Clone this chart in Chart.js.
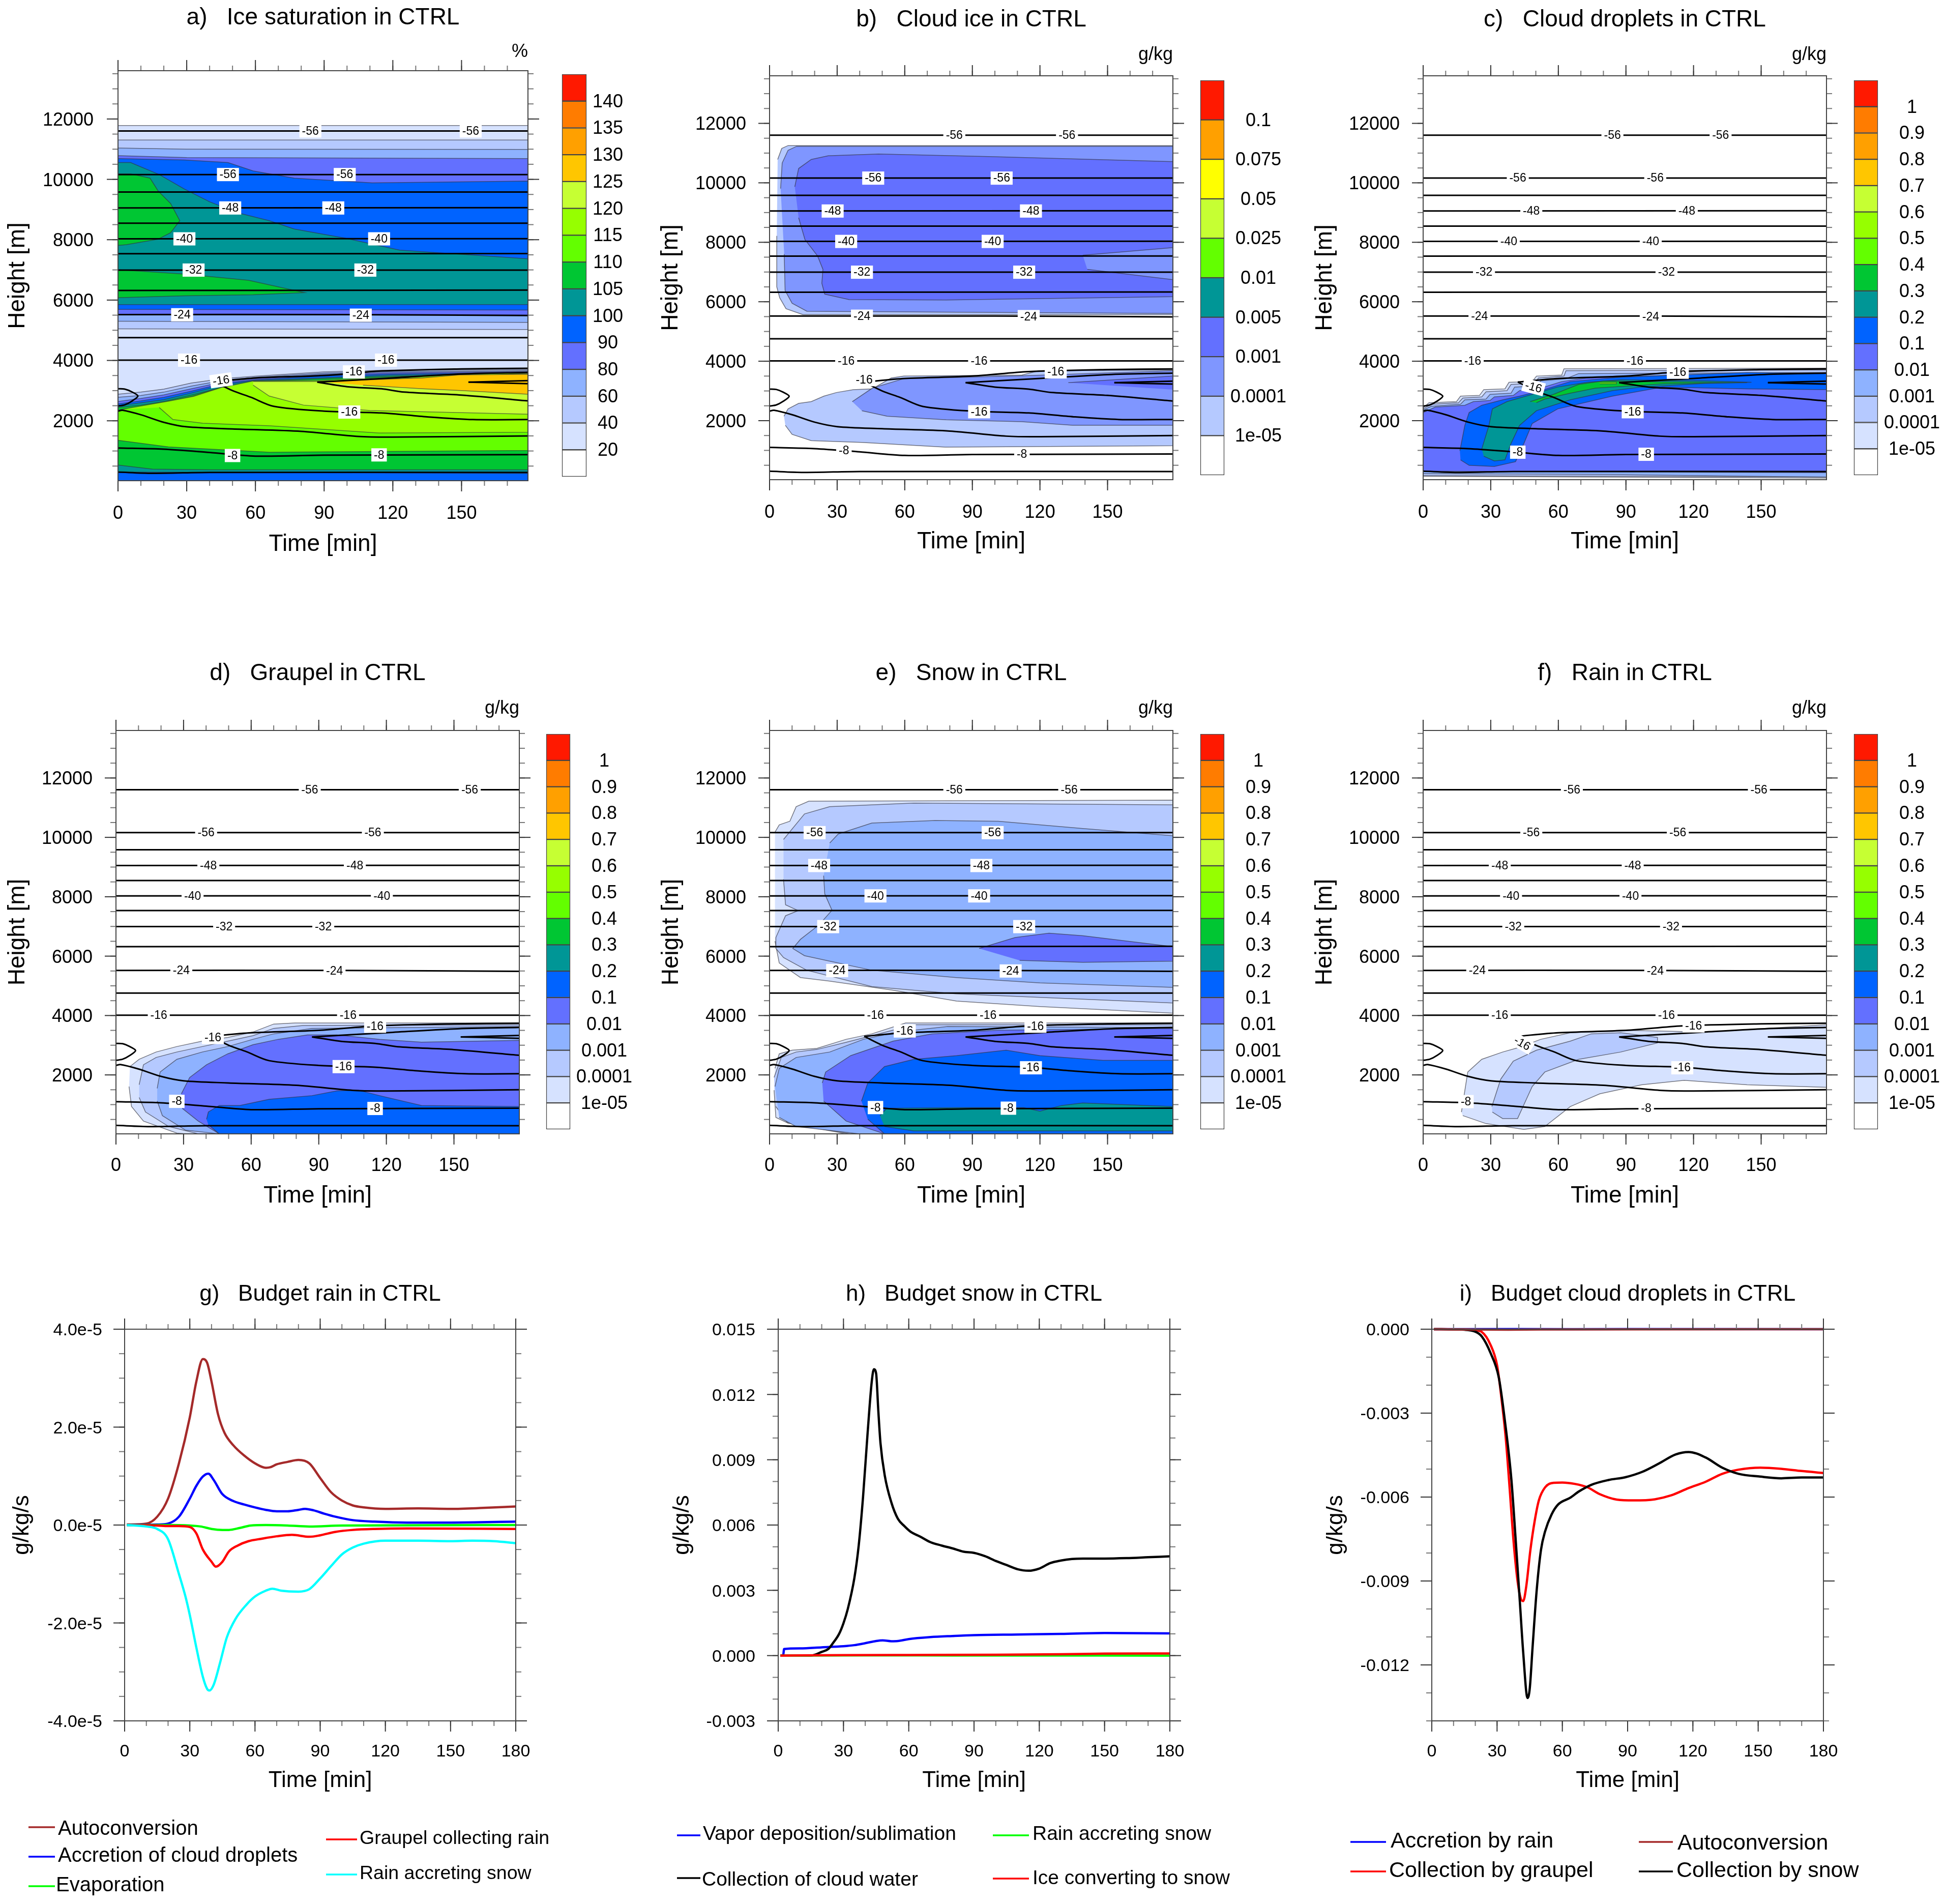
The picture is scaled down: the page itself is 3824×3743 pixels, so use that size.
<!DOCTYPE html>
<html>
<head>
<meta charset="utf-8">
<title>CTRL microphysics</title>
<script src="https://cdn.jsdelivr.net/npm/chart.js@4"></script>
<style>
body { margin: 0; background: #fff; width: 3824px; height: 3743px; overflow: hidden; position: relative; }
canvas { position: absolute; }
</style>
</head>
<body>
<script>
// ---------- axes ----------
const timeTicks = [0, 30, 60, 90, 120, 150];
const budgetTimeTicks = [0, 30, 60, 90, 120, 150, 180];
const heightTicks = [2000, 4000, 6000, 8000, 10000, 12000];
const rainTicks = [-4, -2, 0, 2, 4];
const rainTickLabels = ['-4.0e-5', '-2.0e-5', '0.0e-5', '2.0e-5', '4.0e-5'];
const snowTicks = [-3, 0, 3, 6, 9, 12, 15];
const snowTickLabels = ['-0.003', '0.000', '0.003', '0.006', '0.009', '0.012', '0.015'];
const dropTicks = [-12, -9, -6, -3, 0];
const dropTickLabels = ['-0.012', '-0.009', '-0.006', '-0.003', '0.000'];

// ---------- colour levels ----------
const cWhite = '#ffffff', c1 = '#d6e2ff', c2 = '#b5c9ff', c3 = '#8eb2ff', c3b = '#7f96ff', c4 = '#6370ff', c5 = '#0063ff',
  c6 = '#009696', c7 = '#00c633', c8 = '#63ff00', c9 = '#96ff00', c10 = '#c6ff33', c11 = '#ffc600', c12 = '#ffa000',
  c13 = '#ff7c00', c14 = '#ff1900', cYellow = '#ffff00';
const barColors = [cWhite, c1, c2, c3, c4, c5, c6, c7, c8, c9, c10, c11, c12, c13, c14];
const iceBarColors = [cWhite, c2, c3b, c4, c6, c8, c10, cYellow, c12, c14];
const satLabels = ['20', '40', '60', '80', '90', '100', '105', '110', '115', '120', '125', '130', '135', '140'];
const iceLabels = ['1e-05', '0.0001', '0.001', '0.005', '0.01', '0.025', '0.05', '0.075', '0.1'];
const mixLabels = ['1e-05', '0.0001', '0.001', '0.01', '0.1', '0.2', '0.3', '0.4', '0.5', '0.6', '0.7', '0.8', '0.9', '1'];

// ---------- temperature contours, the same in panels a-f ----------
const iso56a = [[0, 11603], [179, 11603]];
const iso56b = [[0, 10159], [179, 10159]];
const iso52 = [[0, 9581], [179, 9581]];
const iso48 = [[0, 9052], [179, 9060]];
const iso44 = [[0, 8546], [179, 8546]];
const iso40 = [[0, 8029], [179, 8035]];
const iso36 = [[0, 7535], [179, 7540]];
const iso32 = [[0, 6994], [179, 6994]];
const iso28 = [[0, 6320], [179, 6330]];
const iso24 = [[0, 5520], [100, 5520], [179, 5490]];
const iso20 = [[0, 4756], [179, 4756]];
const iso16 = [[0, 4010], [179, 4010]];
const isoV1up = [[179, 3740], [150, 3720], [115, 3650], [90, 3500], [60, 3420], [42, 3300]];
const isoV1low = [[42, 3300], [50, 3000], [58, 2780], [68, 2480], [90, 2320], [115, 2260], [135, 2130], [155, 2040], [179, 2040]];
const isoV2up = [[179, 3600], [150, 3550], [120, 3420], [87, 3280]];
const isoV2low = [[87, 3280], [100, 3130], [115, 3060], [125, 2950], [150, 2850], [179, 2660]];
const isoV3up = [[179, 3330], [153, 3280]];
const isoV3low = [[153, 3280], [179, 3230]];
const iso12 = [[0, 2320], [2, 2350], [10, 2200], [20, 1950], [30, 1800], [50, 1730], [80, 1650], [105, 1480], [120, 1460], [179, 1500]];
const iso8 = [[0, 1100], [20, 1060], [40, 950], [60, 830], [90, 860], [179, 880]];
const iso4 = [[0, 300], [15, 260], [40, 290], [179, 290]];
const isoBubble = [[0, 3062], [3, 3050], [6, 2960], [8.7, 2821], [6, 2650], [3, 2530], [0, 2490]];
const isotherms = [iso56a, iso56b, iso52, iso48, iso44, iso40, iso36, iso32, iso28, iso24, iso20, iso16, isoV1up, isoV1low, isoV2up, isoV2low, isoV3up, isoV3low, iso12, iso8, iso4, isoBubble];

// ---------- a) ice saturation ----------
const aGe20 = [[0, 11783], [179, 11783], [179, 15], [0, 15]];
const aGe40 = [[0, 11302], [179, 11302], [179, 5023], [0, 5045]];
const aGe60 = [[0, 11037], [30, 11000], [179, 10990], [179, 5263], [0, 5300]];
const aGe80 = [[0, 10785], [30, 10720], [179, 10688], [179, 5500], [0, 5510]];
const aGe90 = [[0, 10688], [29, 10640], [48, 10556], [59, 10279], [77, 10039], [111, 9882], [179, 9942], [179, 5670], [0, 5690]];
const aGe100 = [[0, 10556], [5.5, 10556], [18, 10159], [29, 9678], [40, 9257], [52, 8896], [66, 8631], [77, 8354], [99, 8053], [123, 7656], [151, 7512], [179, 7368], [179, 5851], [0, 5851]];
const aGe105top = [[0, 10183], [5.5, 10183], [14, 10039], [17.5, 9618], [23, 9197], [27, 8631], [23, 8234], [17.5, 8017], [3.7, 7837], [0, 7812]];
const aGe105mid = [[0, 7006], [29, 6862], [57, 6657], [81.5, 6248], [59, 6176], [29, 6140], [0, 6080]];
const aLow40 = [[0, 2880], [10, 2950], [20, 3050], [32, 3250], [46, 3400], [60, 3480], [90, 3620], [120, 3680], [179, 3700], [179, 15], [0, 15]];
const aLow60 = [[0, 2780], [10, 2840], [20, 2950], [32, 3150], [46, 3340], [60, 3440], [90, 3580], [120, 3640], [179, 3660], [179, 15], [0, 15]];
const aLow80 = [[0, 2640], [10, 2740], [20, 2860], [32, 3060], [46, 3290], [60, 3400], [90, 3540], [120, 3600], [179, 3630], [179, 15], [0, 15]];
const aLow90 = [[0, 2560], [10, 2660], [20, 2780], [32, 2980], [46, 3240], [60, 3360], [90, 3490], [120, 3560], [179, 3600], [179, 15], [0, 15]];
const aLow100 = [[0, 2500], [10, 2600], [20, 2700], [32, 2920], [46, 3190], [60, 3340], [90, 3430], [120, 3520], [179, 3570], [179, 260], [0, 300]];
const aLow105 = [[0, 2440], [10, 2520], [20, 2640], [32, 2850], [46, 3120], [60, 3310], [90, 3400], [120, 3480], [179, 3550], [179, 379], [40, 379], [15, 400], [0, 535]];
const aLow110 = [[0, 2350], [6, 2420], [15, 2490], [22, 2640], [32, 2800], [44, 3080], [58, 3280], [90, 3300], [120, 3400], [179, 3540], [179, 1017], [66, 957], [22, 1137], [0, 1353]];
const aLow115 = [[1, 2370], [22, 2650], [33, 2810], [45, 3100], [59, 3320], [88, 3340], [133, 3490], [179, 3610], [179, 1620], [114, 1595], [66, 1835], [37, 1920], [24, 2040], [18, 2440]];
const aLow120 = [[59, 3300], [88, 3300], [133, 3420], [179, 3570], [179, 2220], [110, 2340], [81, 2520], [66, 2820], [59, 3180]];
const aLow125 = [[87, 3300], [133, 3420], [149, 3520], [179, 3540], [179, 2880], [151, 3000], [133, 3060], [107, 3180]];
const aFills = [[aGe20, c1], [aGe40, c2], [aGe60, c3], [aGe80, c4], [aGe90, c5], [aGe100, c6], [aGe105top, c7], [aGe105mid, c7],
  [aLow40, c2], [aLow60, c3], [aLow80, c4], [aLow90, c5], [aLow100, c6], [aLow105, c7], [aLow110, c8], [aLow115, c9], [aLow120, c10], [aLow125, c11]];
const aLabels = [[84, 11603, '-56'], [154, 11603, '-56'], [48, 10159, '-56'], [99, 10159, '-56'], [49, 9052, '-48'], [94, 9052, '-48'],
  [29, 8029, '-40'], [114, 8029, '-40'], [33, 6994, '-32'], [108, 6994, '-32'], [28, 5514, '-24'], [106, 5500, '-24'], [31, 4010, '-16'], [117, 4010, '-16'],
  [103, 3620, '-16'], [45, 3340, '-16', -8], [101, 2290, '-16'], [50, 850, '-8'], [114, 870, '-8']];

// ---------- b) cloud ice ----------
const bUp1 = [[3.6, 10787], [5.4, 11155], [8.2, 11253], [179, 11253], [179, 5569], [14.8, 5569], [7.3, 5765], [4.5, 6132], [3.2, 6500], [3.2, 8215]];
const bUp2 = [[4.9, 9807], [5.6, 10665], [8.2, 11094], [12, 11228], [179, 11228], [179, 5605], [16.6, 5679], [10, 5948], [6.9, 6377], [6.5, 7602]];
const bUp3 = [[11.2, 9868], [12.9, 10481], [18.5, 10787], [26, 10910], [48.4, 10971], [97, 10885], [179, 10714], [179, 6169], [78.4, 6059], [35.3, 6071], [24.5, 6255], [23.2, 6622], [23.7, 7088], [21.3, 7541], [15.7, 8092], [12.9, 8827]];
const bHole = [[139, 7565], [179, 7823], [179, 6745], [141, 7088]];
const bLow1 = [[6.4, 2151], [8.2, 2396], [12.9, 2580], [18.5, 2641], [24.1, 2825], [29.7, 2947], [37.2, 3045], [45.6, 3070], [54, 3437], [59.6, 3499], [112, 3535], [119.5, 3682], [179, 3707], [179, 1159], [78, 1110], [41, 1269], [18.5, 1330], [10, 1539], [7, 1844]];
const bLow2 = [[36.7, 2641], [45.6, 3094], [59.6, 3413], [112, 3511], [179, 3682], [179, 1844], [134.5, 1844], [112, 1967], [78.4, 2028], [52.2, 2151], [41, 2335]];
const bLow3 = [[132.6, 3278], [179, 3499], [179, 3045]];
const bFills = [[bUp1, c2], [bUp2, c3b], [bUp3, c4], [bHole, c3b], [bLow1, c2], [bLow2, c3b], [bLow3, c4]];
const bLabels = [[82, 11603, '-56'], [132, 11603, '-56'], [46, 10159, '-56'], [103, 10159, '-56'], [28, 9052, '-48'], [116, 9052, '-48'],
  [34, 8029, '-40'], [99, 8029, '-40'], [41, 6994, '-32'], [113, 6994, '-32'], [41, 5514, '-24'], [115, 5500, '-24'], [34, 4010, '-16'], [93, 4010, '-16'],
  [127, 3640, '-16'], [42, 3380, '-16'], [93, 2300, '-16'], [33, 1000, '-8'], [112, 880, '-8']];

// ---------- c) cloud droplets ----------
const cGe1 = [[0, 2433], [2.6, 2604], [14.8, 2641], [16.6, 2825], [25, 2849], [26.9, 3045], [36.3, 3070], [38.1, 3290], [48.4, 3315], [50.3, 3499], [61.5, 3535], [62.5, 3744], [179, 3768], [179, 68], [0, 130]];
const cGe2 = [[0, 2396], [3.6, 2555], [15.7, 2604], [17.6, 2763], [26, 2800], [27.9, 2972], [37.2, 3009], [39, 3217], [49.4, 3254], [51.2, 3437], [62.5, 3499], [63.4, 3682], [179, 3707], [179, 105], [0, 154]];
const cGe3 = [[0, 2359], [3.6, 2482], [16.6, 2555], [18.5, 2702], [27.9, 2727], [29.7, 2886], [39, 2923], [40.6, 3131], [50.3, 3168], [52.2, 3339], [63.4, 3413], [69, 3584], [179, 3621], [179, 105], [143.8, 130], [80, 191], [0, 215]];
const cGe4 = [[0, 2273], [5.4, 2457], [18.5, 2518], [22.3, 2641], [29.7, 2678], [31.6, 2800], [40, 2849], [42.8, 3009], [52.2, 3094], [61.5, 3315], [72.7, 3437], [125, 3560], [179, 3560], [179, 252], [0, 301]];
const cGe5 = [[16.3, 987], [18.5, 1844], [20.4, 2273], [26, 2518], [35.3, 2702], [42.8, 2825], [52.2, 3009], [65.3, 3315], [87.7, 3462], [143.8, 3621], [179, 3597], [179, 3045], [143.8, 3070], [106.4, 3131], [84, 2825], [59.7, 2396], [48.4, 1906], [44.7, 1232], [41, 620], [31.6, 460], [20.4, 497], [16.6, 681]];
const cGe6 = [[26, 1048], [29.2, 1844], [30.7, 2396], [37.2, 2641], [48.4, 2886], [59.7, 3131], [72.7, 3290], [87.7, 3376], [125, 3339], [145.7, 3290], [125, 3254], [97, 3131], [84, 3009], [65.3, 2702], [50.3, 2335], [42.8, 1844], [39, 1232], [36.3, 681], [31.6, 644], [26.9, 804]];
const cGe7 = [[47.5, 2641], [57.8, 2886], [69, 3217], [80.2, 3339], [97, 3315], [125, 3290], [143.8, 3278], [106.4, 3241], [91.4, 3168], [76.5, 3094], [65.3, 2923], [54, 2727], [50.3, 2604]];
const cGe8 = [[78.4, 3290], [85.8, 3290], [85.8, 3241], [78.4, 3241]];
const cFills = [[cGe1, c1], [cGe2, c2], [cGe3, c3], [cGe4, c4], [cGe5, c5], [cGe6, c6], [cGe7, c7], [cGe8, c8]];
const cLabels = [[84, 11603, '-56'], [132, 11603, '-56'], [42, 10159, '-56'], [103, 10159, '-56'], [48, 9052, '-48'], [117, 9052, '-48'],
  [38, 8029, '-40'], [101, 8029, '-40'], [27, 6994, '-32'], [108, 6994, '-32'], [25, 5514, '-24'], [101, 5500, '-24'], [22, 4010, '-16'], [94, 4010, '-16'],
  [113, 3630, '-16'], [49, 3130, '-16', 15], [93, 2300, '-16'], [42, 940, '-8'], [99, 870, '-8']];

// ---------- d) graupel ----------
const dGe1 = [[6.2, 2281], [10.3, 2526], [17.8, 2771], [27, 2955], [38.3, 3138], [49.6, 3261], [60.8, 3444], [70, 3713], [79.5, 3750], [179, 3750], [179, 17], [30.9, 17], [27, 41], [12.2, 445], [6.9, 935], [5.8, 1608]];
const dGe2 = [[10.3, 1670], [12.2, 2342], [17.8, 2587], [27, 2771], [38.3, 2955], [49.6, 3138], [60.8, 3322], [70, 3567], [83, 3665], [179, 3689], [179, 17], [36.5, 17], [23.4, 262], [13.1, 751], [10.3, 1241]];
const dGe3 = [[18.3, 1547], [19.6, 2098], [27, 2526], [38.3, 2771], [49.6, 2955], [60.8, 3199], [70, 3383], [87, 3567], [179, 3628], [179, 17], [45.8, 17], [30.9, 139], [20.6, 629], [18.3, 1119]];
const dGe4 = [[29, 1363], [32.7, 1914], [40.2, 2342], [49.6, 2710], [60.8, 3016], [72, 3199], [85, 3346], [98, 3346], [117, 3199], [135.6, 3102], [179, 3163], [179, 17], [45.8, 17], [36.5, 445], [29.4, 874]];
const dGe5 = [[40.2, 507], [41, 752], [45.8, 972], [55, 972], [68, 1180], [87, 1302], [98, 1461], [107.5, 1486], [117, 1302], [135.6, 972], [179, 935], [179, 17], [45.8, 17], [41, 322]];
const dFills = [[dGe1, c1], [dGe2, c2], [dGe3, c3], [dGe4, c4], [dGe5, c5]];
const dLabels = [[86, 11603, '-56'], [157, 11603, '-56'], [40, 10159, '-56'], [114, 10159, '-56'], [41, 9052, '-48'], [106, 9052, '-48'],
  [34, 8029, '-40'], [118, 8029, '-40'], [48, 6994, '-32'], [92, 6994, '-32'], [29, 5514, '-24'], [97, 5500, '-24'], [19, 4010, '-16'], [103, 4010, '-16'],
  [115, 3640, '-16'], [43, 3260, '-16'], [101, 2280, '-16'], [27, 1110, '-8'], [115, 870, '-8']];

// ---------- e) snow ----------
const eUp1 = [[2.4, 10176], [4.3, 10421], [9, 10543], [11.8, 11033], [17.4, 11217], [179, 11253], [179, 4081], [120, 4301], [83, 4485], [55, 4852], [26.7, 5158], [13.7, 5280], [4.3, 5770], [2.4, 6504]];
const eUp2 = [[6.2, 9931], [15.5, 10788], [26.7, 11033], [64, 11155], [179, 11094], [179, 4424], [82.8, 4730], [45.4, 4974], [16.5, 5525], [6.2, 5953], [2.8, 6259], [2.8, 6627], [7.1, 7361], [12.7, 7533], [7.1, 7728], [6.2, 8585]];
const eUp3 = [[26.7, 9809], [30.5, 10115], [45.4, 10482], [73.5, 10568], [101.5, 10543], [139, 10299], [179, 10054], [179, 4950], [120, 5097], [82.8, 5280], [45.4, 5525], [26.7, 5831], [15.5, 6015], [10.3, 6259], [13.7, 6565], [22, 7055], [27.7, 7545], [24.5, 8096], [24, 8708]];
const eUp4 = [[93, 6259], [109, 6627], [124, 6773], [139, 6688], [179, 6320], [179, 5831], [139, 5794], [111, 5856]];
const eLow1 = [[2.4, 2220], [4.3, 2710], [10, 2832], [21, 2893], [34, 3199], [45.4, 3383], [60.4, 3750], [179, 3750], [179, 17], [34, 17], [8, 384], [2.8, 568], [2, 1486]];
const eLow2 = [[2, 1915], [5.2, 2587], [11.8, 2771], [21, 2857], [34, 3100], [45.4, 3322], [64, 3689], [179, 3689], [179, 17], [36, 17], [8, 384], [2.8, 935]];
const eLow3 = [[2.4, 1608], [4.3, 2220], [11.8, 2587], [26.7, 2771], [41.7, 3199], [56.7, 3444], [79, 3628], [179, 3591], [179, 17], [39.8, 17], [11.8, 262], [4.3, 568]];
const eLow4 = [[23.4, 1731], [24.9, 2098], [36, 2649], [54.8, 3138], [72, 3383], [101.5, 3506], [179, 3567], [179, 17], [51, 17], [34, 445], [24, 1119]];
const eLow5 = [[40.8, 1119], [43.6, 1731], [51, 2282], [64, 2526], [83, 2649], [105, 2832], [120, 2649], [148, 2489], [179, 2489], [179, 17], [51, 17], [43.6, 507]];
const eLow6 = [[49, 629], [52, 874], [83, 898], [112.8, 898], [120, 776], [129.6, 972], [139, 1057], [179, 935], [179, 115], [64, 115], [51, 262]];
const eFills = [[eUp1, c1], [eUp2, c2], [eUp3, c3], [eUp4, c4], [eLow1, c1], [eLow2, c2], [eLow3, c3], [eLow4, c4], [eLow5, c5], [eLow6, c6]];
const eLabels = [[82, 11603, '-56'], [133, 11603, '-56'], [20, 10159, '-56'], [99, 10159, '-56'], [22, 9052, '-48'], [94, 9052, '-48'],
  [47, 8029, '-40'], [93, 8029, '-40'], [26, 6994, '-32'], [113, 6994, '-32'], [30, 5514, '-24'], [107, 5500, '-24'], [47, 4010, '-16'], [97, 4010, '-16'],
  [118, 3640, '-16'], [60, 3480, '-16'], [116, 2240, '-16'], [47, 900, '-8'], [106, 880, '-8']];

// ---------- f) rain ----------
const fGe1 = [[17, 751], [19.8, 2098], [26, 2526], [35.3, 2771], [42.8, 2930], [52.2, 3199], [65.3, 3420], [87.7, 3506], [125, 3444], [166, 3628], [179, 3689], [179, 1584], [143.8, 1670], [115.8, 1816], [97, 1670], [78.4, 1363], [65.3, 935], [54, 262], [44.7, 164], [27.9, 360], [17.6, 629]];
const fGe2 = [[30.5, 935], [34.4, 1853], [40, 2465], [50.3, 2832], [65.3, 3138], [74.6, 3383], [87.7, 3420], [104, 3261], [104, 3077], [87.7, 2771], [69, 2526], [54, 2098], [48.4, 1608], [44.7, 996], [41.9, 531], [35.3, 531], [30.7, 751]];
const fFills = [[fGe1, c1], [fGe2, c2]];
const fLabels = [[66, 11603, '-56'], [149, 11603, '-56'], [48, 10159, '-56'], [113, 10159, '-56'], [34, 9052, '-48'], [93, 9052, '-48'],
  [39, 8029, '-40'], [92, 8029, '-40'], [40, 6994, '-32'], [110, 6994, '-32'], [24, 5514, '-24'], [103, 5500, '-24'], [34, 4010, '-16'], [108, 4010, '-16'],
  [120, 3650, '-16'], [44, 3060, '-16', 30], [115, 2240, '-16'], [19, 1100, '-8'], [99, 880, '-8']];

// ---------- g) rain budget, in 1e-5 g/kg/s ----------
const rainAuto = [[1, 0.01], [10, 0.03], [15, 0.17], [20, 0.54], [25, 1.26], [30, 2.2], [33, 2.93], [36, 3.39], [38, 3.31], [40, 2.93], [43, 2.26], [46, 1.88], [50, 1.63], [55, 1.42], [60, 1.26], [65, 1.17], [67, 1.18], [70, 1.24], [75, 1.29], [80, 1.33], [85, 1.26], [90, 0.96], [95, 0.67], [100, 0.5], [105, 0.4], [110, 0.36], [120, 0.33], [135, 0.34], [150, 0.33], [165, 0.35], [180, 0.38]];
const rainAccr = [[1, 0], [15, 0.01], [20, 0.03], [25, 0.17], [30, 0.54], [33, 0.8], [36, 0.99], [38.5, 1.05], [41, 0.92], [45, 0.63], [50, 0.49], [55, 0.42], [60, 0.36], [65, 0.31], [70, 0.28], [75, 0.28], [80, 0.31], [83, 0.33], [87, 0.3], [92, 0.23], [97, 0.17], [105, 0.1], [115, 0.07], [130, 0.05], [150, 0.05], [180, 0.07]];
const rainEvap = [[1, 0], [20, 0], [30, -0.01], [35, -0.03], [40, -0.08], [45, -0.1], [48, -0.1], [53, -0.06], [58, -0.01], [65, 0], [75, -0.01], [85, -0.03], [100, -0.01], [180, 0]];
const rainGraupel = [[1, 0], [15, -0.01], [20, -0.02], [25, -0.02], [30, -0.04], [33, -0.17], [36, -0.5], [40, -0.75], [42, -0.85], [45, -0.75], [48, -0.54], [52, -0.42], [57, -0.33], [63, -0.28], [70, -0.23], [77, -0.2], [85, -0.24], [90, -0.21], [97, -0.14], [105, -0.1], [115, -0.08], [130, -0.07], [180, -0.08]];
const rainSnow = [[1, 0], [10, -0.03], [15, -0.08], [20, -0.29], [25, -1], [28, -1.46], [30, -1.84], [33, -2.5], [36, -3.1], [38, -3.35], [39, -3.38], [41, -3.26], [44, -2.8], [47, -2.3], [51, -1.92], [56, -1.63], [60, -1.46], [65, -1.34], [68, -1.3], [72, -1.34], [80, -1.36], [85, -1.31], [90, -1.09], [95, -0.84], [100, -0.6], [105, -0.46], [110, -0.38], [120, -0.32], [135, -0.32], [150, -0.33], [160, -0.32], [170, -0.33], [180, -0.37]];

// ---------- h) snow budget, in 1e-3 g/kg/s ----------
const snowDep = [[1, 0], [2.3, 0.02], [2.7, 0.3], [10, 0.33], [20, 0.38], [30, 0.43], [35, 0.48], [40, 0.57], [45, 0.67], [48, 0.7], [52, 0.66], [55, 0.67], [60, 0.76], [70, 0.85], [80, 0.9], [90, 0.94], [110, 0.97], [130, 1], [150, 1.04], [180, 1.02]];
const snowColl = [[1, 0], [15, 0], [20, 0.17], [23, 0.3], [25, 0.55], [28, 1], [30, 1.49], [32, 2.15], [35, 3.56], [37, 5.06], [39, 7.3], [41, 10.1], [43, 12.6], [44, 13.16], [45, 12.97], [46, 11.27], [47, 9.77], [49, 8.26], [52, 7.04], [55, 6.29], [58, 5.95], [61, 5.68], [65, 5.48], [70, 5.21], [75, 5.06], [80, 4.93], [85, 4.78], [90, 4.72], [95, 4.57], [100, 4.35], [105, 4.16], [110, 3.97], [115, 3.9], [120, 4], [125, 4.25], [130, 4.37], [135, 4.44], [140, 4.46], [150, 4.46], [160, 4.48], [170, 4.52], [180, 4.56]];
const snowRain = [[1, 0], [40, 0.01], [80, 0.005], [180, 0]];
const snowIce = [[1, 0], [30, 0.02], [60, 0.03], [100, 0.04], [130, 0.06], [150, 0.09], [180, 0.1]];

// ---------- i) droplet budget, in 1e-3 g/kg/s ----------
const dropRain = [[1, 0], [40, 0.005], [90, 0.005], [180, 0]];
const dropAuto = [[1, 0], [35, -0.02], [50, -0.01], [180, 0]];
const dropGraupel = [[1, 0], [15, -0.01], [20, -0.04], [23, -0.1], [27, -0.56], [30, -1.29], [32, -2.46], [34, -3.9], [35.6, -5.5], [37.6, -7.6], [39.5, -9.05], [40.9, -9.63], [42, -9.72], [43.4, -9.2], [45.3, -7.9], [47.3, -6.85], [49.2, -6.12], [52.1, -5.65], [56, -5.49], [60, -5.48], [65.7, -5.53], [71.5, -5.65], [77.3, -5.9], [85, -6.09], [92.8, -6.12], [102.5, -6.08], [110, -5.94], [118, -5.68], [125.7, -5.46], [133.5, -5.17], [141, -5.02], [151, -4.95], [160.6, -4.99], [170, -5.07], [180, -5.14]];
const dropSnow = [[1, 0], [15, -0.02], [20, -0.09], [23, -0.26], [27, -0.85], [30.8, -1.73], [33.7, -3.34], [36.6, -5.39], [38.6, -7.58], [40.5, -9.78], [42, -11.54], [44, -13.18], [45, -12.86], [46.3, -11.39], [48.2, -9.34], [50.2, -7.88], [52.1, -7.22], [55, -6.63], [58, -6.27], [63.7, -6.02], [67.6, -5.8], [73.4, -5.56], [81.2, -5.39], [89, -5.29], [96.7, -5.1], [104.4, -4.8], [112, -4.48], [118, -4.39], [125.7, -4.58], [133.5, -4.95], [141, -5.17], [151, -5.27], [160.6, -5.33], [170, -5.3], [180, -5.3]];

const FONT = '"Liberation Sans"';
const AXIS_W = 240, RIGHT_W = 130;

function addCanvas(left, top, width, height) {
  const cv = document.createElement('canvas');
  cv.width = width;
  cv.height = height;
  cv.style.left = left + 'px';
  cv.style.top = top + 'px';
  document.body.appendChild(cv);
  return cv;
}

function toXY(pts) {
  return pts.map(p => ({ x: p[0], y: p[1] }));
}

function fillSet(pts, color) {
  return { data: toXY(pts), showLine: true, fill: 'shape', backgroundColor: color, borderColor: 'rgba(50,50,60,0.65)', borderWidth: 1.5, pointRadius: 0 };
}

function lineSet(pts, color, width) {
  return { data: toXY(pts), showLine: true, fill: false, borderColor: color, borderWidth: width, pointRadius: 0, tension: 0.3 };
}

function curveSet(pts, color, label) {
  return { label: label, data: toXY(pts), showLine: true, fill: false, borderColor: color, borderWidth: 4.5, pointRadius: 0, cubicInterpolationMode: 'monotone', clip: 6 };
}

// ticks on all four sides, contour labels, unit text and line keys
function framePlugin(p, left, top) {
  return {
    id: 'frame',
    afterDatasetsDraw(chart) {
      const ctx = chart.ctx, a = chart.chartArea, xs = chart.scales.x, ys = chart.scales.y;
      ctx.save();
      (p.labels || []).forEach(l => {
        const px = xs.getPixelForValue(l[0]), py = ys.getPixelForValue(l[1]);
        ctx.save();
        ctx.translate(px, py);
        ctx.rotate((l[3] || 0) * Math.PI / 180);
        ctx.font = '23px ' + FONT;
        const w = ctx.measureText(l[2]).width + 10;
        ctx.fillStyle = '#fff';
        ctx.fillRect(-w / 2, -13, w, 26);
        ctx.fillStyle = '#000';
        ctx.textAlign = 'center';
        ctx.textBaseline = 'middle';
        ctx.fillText(l[2], 0, 1);
        ctx.restore();
      });

      const stroke = (x0, y0, x1, y1, color) => {
        ctx.strokeStyle = color;
        ctx.beginPath();
        ctx.moveTo(x0, y0);
        ctx.lineTo(x1, y1);
        ctx.stroke();
      };
      ctx.lineWidth = 2;
      for (let v = 0; v <= xs.max; v += 10) {
        const px = xs.getPixelForValue(v);
        stroke(px, a.top, px, a.top - 10, '#777');
        stroke(px, a.bottom, px, a.bottom + 10, '#777');
      }
      for (let v = Math.ceil(ys.min / p.yMinor) * p.yMinor; v <= ys.max; v += p.yMinor) {
        const py = ys.getPixelForValue(v);
        stroke(a.left, py, a.left - 11, py, '#777');
        stroke(a.right, py, a.right + 11, py, '#777');
      }
      p.xTicks.forEach(v => {
        const px = xs.getPixelForValue(v);
        stroke(px, a.top, px, a.top - 21, '#333');
        stroke(px, a.bottom, px, a.bottom + 21, '#333');
      });
      p.yTicks.forEach(v => {
        const py = ys.getPixelForValue(v);
        stroke(a.left, py, a.left - 22, py, '#333');
        stroke(a.right, py, a.right + 22, py, '#333');
      });
      ctx.strokeStyle = '#444';
      ctx.strokeRect(a.left, a.top, a.right - a.left, a.bottom - a.top);

      if (p.unit) {
        ctx.fillStyle = '#000';
        ctx.font = '36px ' + FONT;
        ctx.textAlign = 'right';
        ctx.textBaseline = 'middle';
        ctx.fillText(p.unit, a.right, p.unitY + 2 - top);
      }
      (p.keys || []).forEach(k => {
        ctx.strokeStyle = k.color;
        ctx.lineWidth = 3.5;
        ctx.beginPath();
        ctx.moveTo(k.x0 - left, k.yLine - top);
        ctx.lineTo(k.x1 - left, k.yLine - top);
        ctx.stroke();
        ctx.fillStyle = '#000';
        ctx.font = k.size + 'px ' + FONT;
        ctx.textAlign = 'left';
        ctx.textBaseline = 'middle';
        ctx.fillText(k.label, k.xText - left, k.yText + 2 - top);
      });
      ctx.restore();
    }
  };
}

function panel(p) {
  const titleLh = p.titleSize * 1.2, axisLh = p.titleSize * 1.2, tickLh = p.tickSize * 1.2;
  const top = Math.round(p.titleY - titleLh / 2), left = p.l - AXIS_W;
  const plotW = p.r - p.l;
  const cv = addCanvas(left, top, plotW + AXIS_W + RIGHT_W, p.b - top + p.below);
  new Chart(cv, {
    type: 'scatter',
    data: { datasets: p.datasets.slice().reverse() },
    plugins: [framePlugin(p, left, top)],
    options: {
      responsive: false,
      devicePixelRatio: 1,
      animation: false,
      events: [],
      layout: { padding: { top: 0, left: 0, bottom: 0, right: RIGHT_W } },
      plugins: {
        legend: { display: false },
        tooltip: { enabled: false },
        title: {
          display: true, text: p.title, fullSize: false, color: '#000',
          font: { family: FONT, size: p.titleSize, weight: 'normal' },
          padding: { top: 0, bottom: p.t - top - titleLh }
        }
      },
      scales: {
        x: {
          type: 'linear', min: 0, max: p.xMax,
          afterBuildTicks: s => { s.ticks = p.xTicks.map(v => ({ value: v })); },
          afterFit: s => { s.height = p.below; },
          grid: { display: false, drawTicks: false },
          border: { display: false },
          ticks: { autoSkip: false, maxRotation: 0, padding: p.xTickY - tickLh / 2, color: '#000', font: { family: FONT, size: p.tickSize }, callback: v => String(v) },
          title: { display: true, text: 'Time [min]', color: '#000', font: { family: FONT, size: p.titleSize }, padding: { top: 0, bottom: p.below - p.xTitleY - axisLh / 2 } }
        },
        y: {
          type: 'linear', min: p.yMin, max: p.yMax,
          afterBuildTicks: s => { s.ticks = p.yTicks.map(v => ({ value: v })); },
          afterFit: s => { s.width = AXIS_W; },
          grid: { display: false, drawTicks: false },
          border: { display: false },
          ticks: { autoSkip: false, padding: p.yTickGap, labelOffset: 3, color: '#000', font: { family: FONT, size: p.tickSize }, callback: v => p.yTickLabels ? p.yTickLabels[p.yTicks.indexOf(v)] : String(v) },
          title: { display: true, text: p.yTitle, color: '#000', font: { family: FONT, size: p.titleSize }, padding: { top: AXIS_W - p.yTitleX + 2 - axisLh / 2, bottom: 0 } }
        }
      }
    }
  });
}

function colorbar(b, colors, labels) {
  const W = 150;
  const cv = addCanvas(b.l - 2, b.t - 2, b.r - b.l + W + 2, b.b - b.t + 4);
  new Chart(cv, {
    type: 'bar',
    data: {
      labels: [''],
      datasets: colors.map(c => ({ data: [1], backgroundColor: c, borderColor: '#444', borderWidth: 1.5, borderSkipped: false, barPercentage: 1, categoryPercentage: 1, clip: false }))
    },
    options: {
      responsive: false,
      devicePixelRatio: 1,
      animation: false,
      events: [],
      layout: { padding: { top: 2, bottom: 2, left: 2, right: 0 } },
      plugins: { legend: { display: false }, tooltip: { enabled: false } },
      scales: {
        x: { display: false, stacked: true },
        y: {
          stacked: true, position: 'right', min: 0, max: colors.length,
          afterBuildTicks: s => { s.ticks = labels.map((_, i) => ({ value: i + 1 })); },
          // the tick labels sit well inside the bar, so no overflow room is needed
          afterFit: s => { s.width = W; s.paddingTop = 0; s.paddingBottom = 0; },
          grid: { display: false, drawTicks: false },
          border: { display: false },
          ticks: { autoSkip: false, padding: 12, labelOffset: 2, crossAlign: 'center', color: '#000', font: { family: FONT, size: 36 }, callback: v => labels[v - 1] }
        }
      }
    }
  });
}

function contourPanel(p, fills, labels) {
  const sets = fills.map(f => fillSet(f[0], f[1])).concat(isotherms.map(iso => lineSet(iso, '#000', 3)));
  panel(Object.assign({
    datasets: sets, labels: labels, xMax: 179, yMin: 15, yMax: 13600, xTicks: timeTicks, yTicks: heightTicks, yMinor: 500,
    yTitle: 'Height [m]', titleSize: 46, tickSize: 36, below: 180
  }, p));
}

function budgetPanel(p, series, keys) {
  panel(Object.assign({
    datasets: series.map(s => curveSet(s[0], s[1], s[2])),
    keys: keys.map((k, i) => Object.assign({ color: series[i][1], label: series[i][2] }, k)),
    xMax: 180, xTicks: budgetTimeTicks, yTitle: 'g/kg/s', titleSize: 44, tickSize: 34, below: 3743 - p.b,
    xTickY: 61, xTitleY: 118, titleY: 2544
  }, p));
}

contourPanel({ title: 'a)   Ice saturation in CTRL', l: 232, r: 1038, t: 139, b: 945, titleY: 36, unit: '%', unitY: 100, xTickY: 65, xTitleY: 125, yTickGap: 48, yTitleX: 199 }, aFills, aLabels);
contourPanel({ title: 'b)   Cloud ice in CTRL', l: 1513, r: 2306, t: 149, b: 943, titleY: 40, unit: 'g/kg', unitY: 106, xTickY: 65, xTitleY: 122, yTickGap: 46, yTitleX: 196 }, bFills, bLabels);
contourPanel({ title: 'c)   Cloud droplets in CTRL', l: 2798, r: 3591, t: 149, b: 943, titleY: 40, unit: 'g/kg', unitY: 106, xTickY: 65, xTitleY: 122, yTickGap: 46, yTitleX: 195 }, cFills, cLabels);
contourPanel({ title: 'd)   Graupel in CTRL', l: 228, r: 1021, t: 1436, b: 2229, titleY: 1325, unit: 'g/kg', unitY: 1391, xTickY: 63, xTitleY: 122, yTickGap: 46, yTitleX: 195 }, dFills, dLabels);
contourPanel({ title: 'e)   Snow in CTRL', l: 1513, r: 2306, t: 1436, b: 2229, titleY: 1325, unit: 'g/kg', unitY: 1391, xTickY: 63, xTitleY: 122, yTickGap: 46, yTitleX: 195 }, eFills, eLabels);
contourPanel({ title: 'f)   Rain in CTRL', l: 2798, r: 3591, t: 1436, b: 2229, titleY: 1325, unit: 'g/kg', unitY: 1391, xTickY: 63, xTitleY: 122, yTickGap: 46, yTitleX: 195 }, fFills, fLabels);

colorbar({ l: 1105, r: 1153, t: 146, b: 937 }, barColors, satLabels);
colorbar({ l: 2360, r: 2407, t: 158, b: 934 }, iceBarColors, iceLabels);
colorbar({ l: 3645, r: 3692, t: 158, b: 934 }, barColors, mixLabels);
colorbar({ l: 1074, r: 1121, t: 1443, b: 2220 }, barColors, mixLabels);
colorbar({ l: 2360, r: 2407, t: 1443, b: 2220 }, barColors, mixLabels);
colorbar({ l: 3645, r: 3692, t: 1443, b: 2220 }, barColors, mixLabels);

budgetPanel({ title: 'g)   Budget rain in CTRL', l: 245, r: 1014, t: 2613, b: 3383, yMin: -4, yMax: 4, yTicks: rainTicks, yTickLabels: rainTickLabels, yMinor: 0.5, yTickGap: 44, yTitleX: 203 },
  [[rainAuto, '#a52a2a', 'Autoconversion'], [rainAccr, '#0000ff', 'Accretion of cloud droplets'], [rainEvap, '#00ff00', 'Evaporation'], [rainGraupel, '#ff0000', 'Graupel collecting rain'], [rainSnow, '#00ffff', 'Rain accreting snow']],
  [{ x0: 56, x1: 108, yLine: 3592, xText: 114, yText: 3594, size: 40 },
   { x0: 56, x1: 108, yLine: 3650, xText: 114, yText: 3647, size: 40 },
   { x0: 56, x1: 108, yLine: 3708, xText: 110, yText: 3705, size: 40 },
   { x0: 641, x1: 702, yLine: 3616, xText: 707, yText: 3613, size: 37.5 },
   { x0: 641, x1: 702, yLine: 3685, xText: 707, yText: 3682, size: 37.5 }]);

budgetPanel({ title: 'h)   Budget snow in CTRL', l: 1530, r: 2300, t: 2613, b: 3383, yMin: -3, yMax: 15, yTicks: snowTicks, yTickLabels: snowTickLabels, yMinor: 1, yTickGap: 45, yTitleX: 190 },
  [[snowDep, '#0000ff', 'Vapor deposition/sublimation'], [snowColl, '#000000', 'Collection of cloud water'], [snowRain, '#00ff00', 'Rain accreting snow'], [snowIce, '#ff0000', 'Ice converting to snow']],
  [{ x0: 1331, x1: 1377, yLine: 3608, xText: 1382, yText: 3604, size: 39 },
   { x0: 1331, x1: 1377, yLine: 3692, xText: 1380, yText: 3694, size: 39 },
   { x0: 1952, x1: 2023, yLine: 3608, xText: 2030, yText: 3604, size: 39 },
   { x0: 1952, x1: 2023, yLine: 3693, xText: 2030, yText: 3691, size: 39 }]);

budgetPanel({ title: 'i)   Budget cloud droplets in CTRL', l: 2815, r: 3585, t: 2613, b: 3383, yMin: -14, yMax: 0, yTicks: dropTicks, yTickLabels: dropTickLabels, yMinor: 1, yTickGap: 44, yTitleX: 190 },
  [[dropRain, '#0000ff', 'Accretion by rain'], [dropGraupel, '#ff0000', 'Collection by graupel'], [dropSnow, '#000000', 'Collection by snow'], [dropAuto, '#a52a2a', 'Autoconversion']],
  [{ x0: 2655, x1: 2725, yLine: 3621, xText: 2734, yText: 3618, size: 43 },
   { x0: 2655, x1: 2725, yLine: 3679, xText: 2731, yText: 3676, size: 43 },
   { x0: 3222, x1: 3289, yLine: 3679, xText: 3296, yText: 3676, size: 43 },
   { x0: 3222, x1: 3289, yLine: 3621, xText: 3298, yText: 3622, size: 43 }]);
</script>
</body>
</html>
